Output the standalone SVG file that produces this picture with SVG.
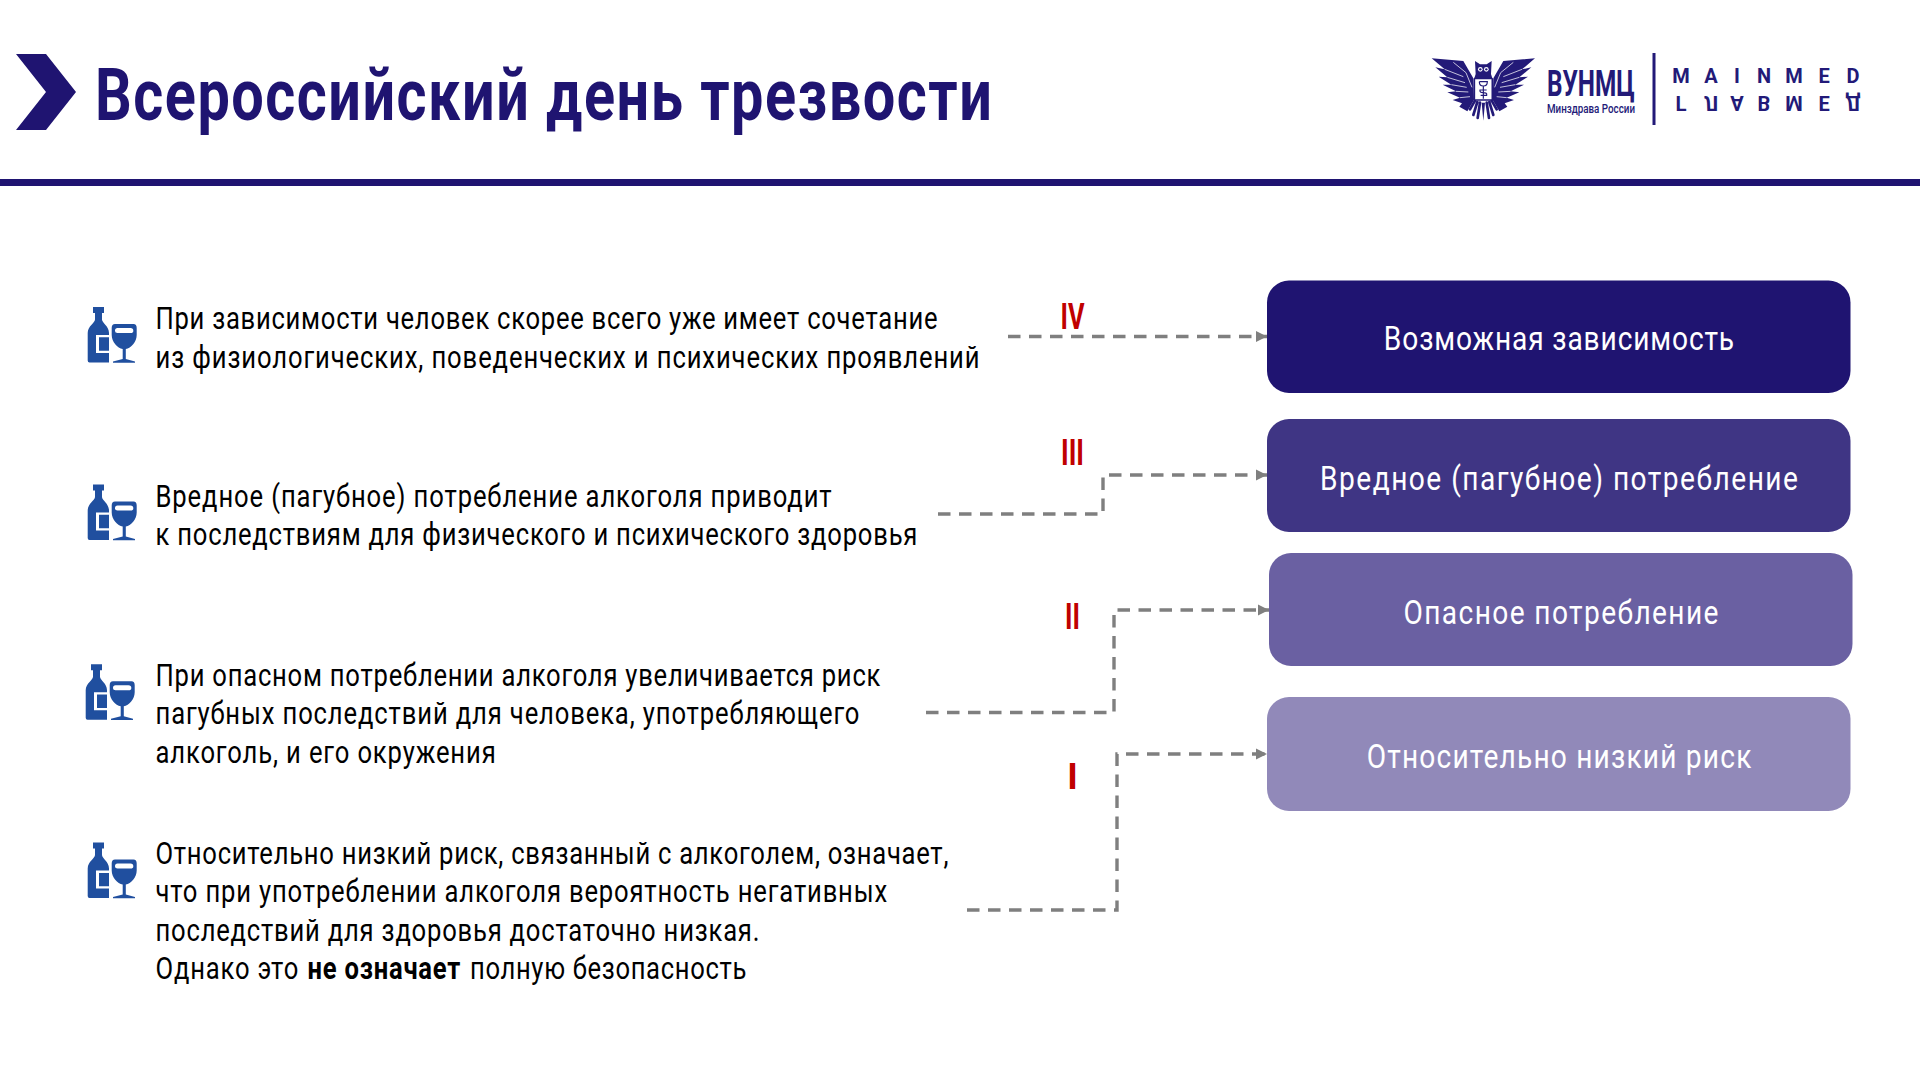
<svg xmlns="http://www.w3.org/2000/svg" xmlns:xlink="http://www.w3.org/1999/xlink" width="1920" height="1080" viewBox="0 0 1920 1080">
<style>
text{font-family:Roboto,"Noto Sans",sans-serif}
.t{font-size:30.5px;fill:#000}
.b{font-size:33.5px;fill:#fff;text-anchor:middle}
.r{font-size:36px;fill:#c00000;text-anchor:middle;font-weight:700}
.c{fill:none;stroke:#7f7f7f;stroke-width:3.4;stroke-dasharray:12.5 8.5;marker-end:url(#ah)}
.logo{fill:#231a78}
.m{font-size:20px;font-weight:700;fill:#231a78;text-anchor:middle}
</style>
<defs>
<marker id="ah" markerUnits="userSpaceOnUse" markerWidth="12" markerHeight="12" refX="11" refY="6" orient="auto"><path d="M0 .5L11 6L0 11.5Z" fill="#7f7f7f"/></marker>
<g id="ico">
<path fill="#204f9f" d="M93 307H104V313H102V319.5C102 323 109 326 109 333V362.500H89.500Q87.700 362.500 87.700 360.500V333C87.700 326 95 323 95 319.5V313H93Z"/>
<path fill="#fff" d="M110 335H96V353H110V350.700H99V337.300H110Z"/>
<path fill="#204f9f" fill-rule="evenodd" d="M115 324H133.500Q136.700 324 136.700 328V335C136.700 342 131 348 125.800 349V359L135 361.500V362.700H113V361.500L122.700 359V349C117.500 348 111.700 342 111.700 335V328Q111.700 324 115 324ZM117.500 328Q115 328 115 330.500V331Q115 333 117.500 333H130.500Q133.300 333 133.300 331V330.500Q133.300 328 130.500 328Z"/>
</g>
<g id="wing">
<path class="logo" d="M5 25L100 33L130 85L132 150L112 184L88 170L96 160L68 150L90 143L52 127L78 124L38 104L64 104L26 80L52 82L16 52L44 58Z"/>
<path d="M70 37L108 68L126 112M44 58L100 80M52 82L105 98M64 104L110 112M78 124L115 126M90 143L120 140" fill="none" stroke="#fff" stroke-width="2.200"/>
<path d="M135 152L120 178M142 156L130 195M150 158L143 204" fill="none" stroke="#231a78" stroke-width="8" stroke-linecap="round"/>
</g>
</defs>
<rect width="1920" height="1080" fill="#fff"/>
<g id="header">
<path d="M16 54H46L76 92L46 130H16L46 92Z" fill="#1f1471"/>
<rect x="0" y="179" width="1920" height="7" fill="#1f1471"/>
<text transform="translate(95,120) scale(.8,1)" x="0" y="0" font-size="72" font-weight="700" fill="#1f1471" textLength="1121" lengthAdjust="spacing">Всероссийский день трезвости</text>
</g>
<g id="logo">
<g transform="translate(1430,50) scale(.3333)">
<use xlink:href="#wing" href="#wing"/>
<use xlink:href="#wing" href="#wing" transform="translate(320,0) scale(-1,1)"/>
<path class="logo" d="M155 158h10L160 212Z"/>
<rect x="133" y="85" width="54" height="65" rx="3" fill="#fff" stroke="#231a78" stroke-width="5"/>
<path class="logo" d="M135 33L150 43H170L185 33L183 72L187 85H133L137 72Z"/>
<circle cx="151" cy="58" r="7" fill="#fff"/><circle cx="169" cy="58" r="7" fill="#fff"/>
<circle cx="151" cy="58" r="3.500" fill="#231a78"/><circle cx="169" cy="58" r="3.500" fill="#231a78"/>
<path d="M148 95H172Q172 108 160 108Q148 108 148 95M160 108V146M170 120H150Q148 128 160 128Q172 128 170 136H152" fill="none" stroke="#231a78" stroke-width="3.500"/>
</g>
<text transform="translate(1547,96) scale(.86,1)" x="0" y="0" font-size="37" font-weight="700" class="logo" textLength="102" lengthAdjust="spacingAndGlyphs">ВУНМЦ</text>
<text x="1547" y="113" font-size="13.500" font-weight="500" class="logo" textLength="88" lengthAdjust="spacingAndGlyphs">Минздрава России</text>
<rect x="1652.500" y="53" width="3" height="72" fill="#231a78"/>
<text class="m" x="1681 1711 1737 1764 1794 1824 1853" y="83">MAINMED</text>
<text class="m" x="1681 1711 1737 1764 1794 1824 1853" y="0" transform="translate(0,96) scale(1,-1)">ГЛАВМЕД</text>
</g>
<g id="connectors">
<path class="c" d="M1008 336.500H1267"/>
<path class="c" d="M938 514H1103V475H1267"/>
<path class="c" d="M926 712.500H1114V610H1269"/>
<path class="c" d="M967 910H1117V754H1267"/>
</g>
<g id="item-4">
<use xlink:href="#ico" href="#ico"/>
<text class="t" transform="translate(155.500,329) scale(.84,1)" x="0" y="0" textLength="931" lengthAdjust="spacing">При зависимости человек скорее всего уже имеет сочетание</text>
<text class="t" transform="translate(155.500,367.500) scale(.84,1)" x="0" y="0" textLength="981" lengthAdjust="spacing">из физиологических, поведенческих и психических проявлений</text>
</g>
<g id="item-3">
<use xlink:href="#ico" href="#ico" transform="translate(0,177.500)"/>
<text class="t" transform="translate(155.500,506.500) scale(.84,1)" x="0" y="0" textLength="805" lengthAdjust="spacing">Вредное (пагубное) потребление алкоголя приводит</text>
<text class="t" transform="translate(155.500,545) scale(.84,1)" x="0" y="0" textLength="907" lengthAdjust="spacing">к последствиям для физического и психического здоровья</text>
</g>
<g id="item-2">
<use xlink:href="#ico" href="#ico" transform="translate(-2,357.300)"/>
<text class="t" transform="translate(155.500,686) scale(.84,1)" x="0" y="0" textLength="863" lengthAdjust="spacing">При опасном потреблении алкоголя увеличивается риск</text>
<text class="t" transform="translate(155.500,724) scale(.84,1)" x="0" y="0" textLength="838" lengthAdjust="spacing">пагубных последствий для человека, употребляющего</text>
<text class="t" transform="translate(155.500,763) scale(.84,1)" x="0" y="0" textLength="405" lengthAdjust="spacing">алкоголь, и его окружения</text>
</g>
<g id="item-1">
<use xlink:href="#ico" href="#ico" transform="translate(0,535.600)"/>
<text class="t" transform="translate(155.500,864) scale(.84,1)" x="0" y="0" textLength="944" lengthAdjust="spacing">Относительно низкий риск, связанный с алкоголем, означает,</text>
<text class="t" transform="translate(155.500,902) scale(.84,1)" x="0" y="0" textLength="871" lengthAdjust="spacing">что при употреблении алкоголя вероятность негативных</text>
<text class="t" transform="translate(155.500,941) scale(.84,1)" x="0" y="0" textLength="719" lengthAdjust="spacing">последствий для здоровья достаточно низкая.</text>
<text class="t" transform="translate(155.500,979) scale(.84,1)" x="0" y="0" textLength="170" lengthAdjust="spacing">Однако это</text>
<text class="t" transform="translate(307.500,979) scale(.84,1)" x="0" y="0" font-weight="700" textLength="182" lengthAdjust="spacing">не означает</text>
<text class="t" transform="translate(470,979) scale(.84,1)" x="0" y="0" textLength="329" lengthAdjust="spacing">полную безопасность</text>
</g>
<g id="label-iv"><text class="r" x="1072.500" y="329" textLength="24" lengthAdjust="spacingAndGlyphs">IV</text></g>
<g id="label-iii"><text class="r" x="1072.500" y="465" textLength="23" lengthAdjust="spacingAndGlyphs">III</text></g>
<g id="label-ii"><text class="r" x="1072.500" y="629" textLength="15" lengthAdjust="spacingAndGlyphs">II</text></g>
<g id="label-i"><text class="r" x="1072.500" y="789">I</text></g>
<g id="box-4">
<rect x="1267" y="280.500" width="583.500" height="112.500" rx="22" fill="#1f1471"/>
<text class="b" transform="translate(1559,350) scale(.84,1)" x="0" y="0" textLength="417" lengthAdjust="spacing">Возможная зависимость</text>
</g>
<g id="box-3">
<rect x="1267" y="419" width="583.500" height="113" rx="22" fill="#3f3584"/>
<text class="b" transform="translate(1559,490) scale(.84,1)" x="0" y="0" textLength="569" lengthAdjust="spacing">Вредное (пагубное) потребление</text>
</g>
<g id="box-2">
<rect x="1269" y="553" width="583.500" height="113" rx="22" fill="#6a60a2"/>
<text class="b" transform="translate(1561,624) scale(.84,1)" x="0" y="0" textLength="375" lengthAdjust="spacing">Опасное потребление</text>
</g>
<g id="box-1">
<rect x="1267" y="697" width="583.500" height="114" rx="22" fill="#9189b9"/>
<text class="b" transform="translate(1559,768) scale(.84,1)" x="0" y="0" textLength="458" lengthAdjust="spacing">Относительно низкий риск</text>
</g>
</svg>
